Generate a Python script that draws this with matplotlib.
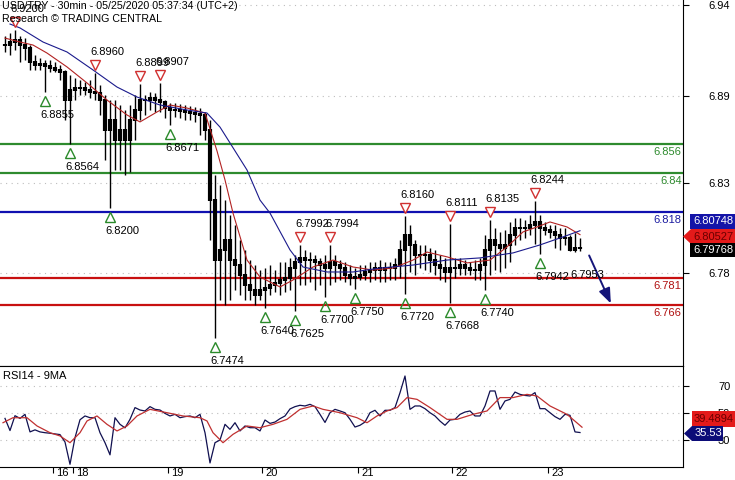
import numpy as np
import matplotlib
matplotlib.use("Agg")
import matplotlib.pyplot as plt
from matplotlib.transforms import ScaledTranslation
from matplotlib.patches import Polygon

plt.rcParams['font.family'] = ['Liberation Sans', 'DejaVu Sans']
FS = 8

# USD/TRY bars (one bar per ~2.5h slice of the 30min chart)
highs = [6.9169, 6.9186, 6.9200, 6.9169, 6.9158, 6.9118, 6.9062, 6.9045, 6.9034, 6.9034,
         6.9023, 6.9006, 6.8978, 6.8950, 6.8933, 6.8922, 6.8910, 6.8922, 6.8960, 6.8893,
         6.8837, 6.8809, 6.8809, 6.8781, 6.8753, 6.8781, 6.8837, 6.8899, 6.8837, 6.8854,
         6.8849, 6.8907, 6.8809, 6.8792, 6.8792, 6.8787, 6.8781, 6.8775, 6.8770, 6.8764,
         6.8742, 6.8697, 6.8388, 6.8332, 6.8247, 6.8163, 6.8107, 6.8023, 6.7967, 6.7910,
         6.7882, 6.7854, 6.7865, 6.7882, 6.7854, 6.7899, 6.7899, 6.7922, 6.7939, 6.7992,
         6.7967, 6.7955, 6.7939, 6.7922, 6.7939, 6.7994, 6.7939, 6.7910, 6.7899, 6.7882,
         6.7865, 6.7882, 6.7882, 6.7899, 6.7899, 6.7910, 6.7899, 6.7899, 6.7922, 6.8023,
         6.8160, 6.8107, 6.8023, 6.7995, 6.7995, 6.7978, 6.7967, 6.7939, 6.7922, 6.8111,
         6.7922, 6.7922, 6.7910, 6.7899, 6.7910, 6.7922, 6.8051, 6.8135, 6.8090, 6.8068,
         6.8079, 6.8124, 6.8146, 6.8146, 6.8135, 6.8163, 6.8244, 6.8163, 6.8124, 6.8107,
         6.8107, 6.8090, 6.8090, 6.8051, 6.8062, 6.8034]
lows = [6.9079, 6.9062, 6.9090, 6.9023, 6.9034, 6.8978, 6.8978, 6.8978, 6.8855, 6.8966,
        6.8966, 6.8922, 6.8697, 6.8564, 6.8809, 6.8837, 6.8837, 6.8820, 6.8809, 6.8725,
        6.8472, 6.8200, 6.8416, 6.8416, 6.8388, 6.8405, 6.8584, 6.8697, 6.8725, 6.8753,
        6.8742, 6.8742, 6.8708, 6.8671, 6.8714, 6.8708, 6.8697, 6.8697, 6.8686, 6.8613,
        6.8584, 6.8023, 6.7474, 6.7686, 6.7658, 6.7686, 6.7742, 6.7714, 6.7686, 6.7686,
        6.7658, 6.7686, 6.7640, 6.7714, 6.7731, 6.7714, 6.7731, 6.7742, 6.7625, 6.7770,
        6.7770, 6.7787, 6.7742, 6.7770, 6.7700, 6.7770, 6.7787, 6.7798, 6.7787, 6.7770,
        6.7750, 6.7798, 6.7798, 6.7787, 6.7798, 6.7787, 6.7787, 6.7798, 6.7798, 6.7809,
        6.7720, 6.7843, 6.7826, 6.7865, 6.7854, 6.7843, 6.7826, 6.7798, 6.7787, 6.7668,
        6.7809, 6.7826, 6.7826, 6.7826, 6.7798, 6.7798, 6.7740, 6.7826, 6.7854, 6.7843,
        6.7865, 6.7899, 6.7995, 6.8023, 6.8034, 6.8051, 6.8000, 6.7942, 6.8051, 6.8034,
        6.7978, 6.7967, 6.7995, 6.7960, 6.7953, 6.7960]
closes = [6.9118, 6.9135, 6.9146, 6.9118, 6.9101, 6.9023, 6.9006, 6.9011, 6.9000, 6.8989,
          6.8978, 6.8966, 6.8809, 6.8865, 6.8877, 6.8877, 6.8865, 6.8854, 6.8849, 6.8809,
          6.8641, 6.8697, 6.8584, 6.8641, 6.8584, 6.8697, 6.8753, 6.8809, 6.8809, 6.8820,
          6.8809, 6.8798, 6.8764, 6.8753, 6.8753, 6.8747, 6.8742, 6.8736, 6.8731, 6.8725,
          6.8641, 6.8247, 6.7910, 6.7967, 6.8023, 6.7910, 6.7882, 6.7826, 6.7770, 6.7742,
          6.7714, 6.7742, 6.7753, 6.7770, 6.7781, 6.7798, 6.7809, 6.7865, 6.7899, 6.7922,
          6.7910, 6.7910, 6.7899, 6.7882, 6.7865, 6.7899, 6.7882, 6.7865, 6.7826, 6.7809,
          6.7815, 6.7826, 6.7843, 6.7854, 6.7865, 6.7854, 6.7865, 6.7865, 6.7882, 6.7967,
          6.8051, 6.7995, 6.7939, 6.7939, 6.7939, 6.7910, 6.7882, 6.7865, 6.7843, 6.7865,
          6.7865, 6.7882, 6.7865, 6.7854, 6.7854, 6.7882, 6.7967, 6.8023, 6.7995, 6.7978,
          6.7995, 6.8051, 6.8090, 6.8090, 6.8090, 6.8107, 6.8124, 6.8090, 6.8079, 6.8068,
          6.8051, 6.8034, 6.8034, 6.7967, 6.7978, 6.79768]

# moving averages on price (bar index, value)
red_ma_t = [0, 3, 5.6, 8.4, 12.4, 16.4, 20.4, 24.4, 27, 30.4, 33, 36.4, 40, 42.4, 44, 45.6,
            48.4, 51, 55, 57.6, 61.6, 65.6, 69.6, 73.6, 77.6, 81.6, 84.4, 88.4, 92.4, 97,
            100.4, 103.6, 106.4, 109, 112.4, 115]
red_ma = [6.9157, 6.9135, 6.9118, 6.9073, 6.8995, 6.8905, 6.8809, 6.8725, 6.8686, 6.8742,
          6.8781, 6.8764, 6.8736, 6.8523, 6.8360, 6.8174, 6.7910, 6.7815, 6.7759, 6.7798,
          6.7871, 6.7910, 6.7871, 6.7854, 6.7865, 6.7910, 6.7955, 6.7928, 6.7894, 6.7910,
          6.7984, 6.8068, 6.8096, 6.8124, 6.8096, 6.80527]
blue_ma_t = [1, 3, 7.6, 12.4, 17.6, 22.4, 26.4, 31, 36.4, 40.4, 43, 45, 48.4, 51, 53, 57,
             59.6, 64.4, 69.6, 75, 81.6, 88.4, 95, 101.6, 107, 111.6, 115]
blue_ma = [6.9236, 6.9214, 6.9135, 6.9079, 6.8978, 6.8882, 6.8826, 6.8781, 6.8753, 6.8736,
           6.8657, 6.8568, 6.8416, 6.8247, 6.8174, 6.7967, 6.7871, 6.7843, 6.7843, 6.7865,
           6.7882, 6.7910, 6.7922, 6.7950, 6.7995, 6.8040, 6.80748]

# RSI14 per bar and its 9MA
rsi = [46, 37, 48, 46, 49, 36, 37.5, 36, 35.4, 35,
       34.5, 34, 28.5, 12, 31.7, 45, 47.8, 46.5, 46.5, 35.4,
       28, 19, 46.5, 41.6, 39, 45.3, 54, 52.2, 51.5, 54.7,
       52.7, 52.2, 49.7, 47.8, 49, 46.5, 47.3, 47.8, 46.5, 49,
       35.4, 13, 28, 30, 41.6, 37.9, 42.8, 36.7, 40.4, 39.1,
       39.1, 36.7, 44.8, 42.3, 43.3, 45.8, 47.8, 53, 54.7, 55.7,
       55.2, 56.4, 54.7, 49, 43, 50.2, 52.7, 51.5, 50.2, 45.3,
       39.6, 40.9, 43.3, 50.2, 52, 47.8, 52, 52, 54, 65,
       77.4, 52.7, 55.2, 55.2, 53.2, 50.2, 47.8, 44, 40.9, 44.8,
       45.3, 49, 50.7, 51.5, 47.8, 47.8, 55.2, 66.3, 66.3, 52.7,
       58.9, 60.1, 65.5, 63.8, 63, 62.6, 65.1, 53.2, 53.2, 50.2,
       47.3, 45.3, 49, 48.3, 36, 35.53]
rsi_ma_t = [-0.4, 1.6, 4.4, 6.4, 9, 11, 13, 15, 16.4, 18.4, 20.4, 22.4, 24.4, 26.4, 29, 32.4,
            35.6, 39, 40.4, 41.6, 43.6, 45.6, 48.4, 51, 53.6, 56.4, 59, 61.6, 63.6, 67, 70.4,
            72.4, 74.4, 76.4, 78.4, 80.4, 82.4, 85, 88.4, 90.4, 93.6, 96.4, 99, 101.6, 104.4,
            106.4, 109, 112.4, 115.4]
rsi_ma = [42.8, 46.5, 46.5, 40.4, 35.4, 33.0, 28.0, 35.4, 44.1, 47.8, 41.6, 36.7, 40.4, 47.8,
          52.7, 50.2, 47.8, 46.5, 44.1, 35.4, 28.0, 34.2, 40.4, 39.1, 41.6, 45.3, 52.7, 55.2,
          52.7, 50.2, 46.5, 42.8, 47.8, 51.5, 54.0, 61.4, 60.1, 54.0, 45.3, 45.3, 49.0, 51.5,
          61.4, 61.4, 63.8, 62.6, 55.2, 49.0, 39.4894]

# swing points
swing_high_t = [2, 18, 27, 31, 59, 65, 80, 89, 97, 106]
swing_high = [6.9200, 6.8960, 6.8899, 6.8907, 6.7992, 6.7994, 6.8160, 6.8111, 6.8135, 6.8244]
swing_low_t = [8, 13, 21, 33, 42, 52, 58, 64, 70, 80, 89, 96, 107]
swing_low = [6.8855, 6.8564, 6.8200, 6.8671, 6.7474, 6.7640, 6.7625, 6.7700, 6.7750,
             6.7720, 6.7668, 6.7740, 6.7942]
last_low_t = 114
last_low = 6.7953

# support / resistance
levels = [6.856, 6.84, 6.818, 6.781, 6.766]
level_labels = ['6.856', '6.84', '6.818', '6.781', '6.766']
level_colors = ['#2e8b2e', '#2e8b2e', '#1010b0', '#c81010', '#c81010']
level_text_colors = ['#2e8b2e', '#2e8b2e', '#1a1aa0', '#b01010', '#b01010']

# x axis: day labels
day_ticks = [9.6, 13.6, 32.6, 51.4, 70.6, 89.4, 108.6]
day_labels = ['16', '18', '19', '20', '21', '22', '23']

price_ticks = [6.9343, 6.8832, 6.8343, 6.7838]
price_tick_labels = ['6.94', '6.89', '6.83', '6.78']
rsi_ticks = [70, 50, 30]

W, H = 735, 480
fig = plt.figure(figsize=(W / 100, H / 100), dpi=100)
ax = fig.add_axes([0, 1 - 366 / H, 683 / W, 366 / H])
ax2 = fig.add_axes([0, 1 - 467 / H, 683 / W, 101 / H], sharex=ax)

t = np.arange(len(closes))
opens = np.r_[closes[0], closes[:-1]]

# main panel
for lv, c in zip(levels, level_colors):
    ax.axhline(lv, color=c, lw=1.6, zorder=1)
ax.vlines(t, lows, highs, color='black', lw=1.0, zorder=3)
ax.vlines(t, np.minimum(opens, closes) - 0.0004, np.maximum(opens, closes) + 0.0004,
          color='black', lw=3.0, zorder=3)
ax.plot(red_ma_t, red_ma, color='#b22222', lw=0.8, zorder=4)
ax.plot(blue_ma_t, blue_ma, color='#1a1a8c', lw=0.8, zorder=4)


def shifted(dx, dy):
    return ax.transData + ScaledTranslation(dx / 100, dy / 100, fig.dpi_scale_trans)


for x, p in zip(swing_high_t, swing_high):
    ax.plot(x, p, marker='v', ms=7, mfc='white', mec='#d03030', mew=1, transform=shifted(0, 8), zorder=5)
    ax.text(x, p, f'{p:.4f}', transform=shifted(-5, 21), ha='left', va='center', fontsize=FS, zorder=6)
for x, p in zip(swing_low_t, swing_low):
    ax.plot(x, p, marker='^', ms=7, mfc='none', mec='#2a8a2a', mew=1, transform=shifted(0, -9), zorder=5)
    ax.text(x, p, f'{p:.4f}', transform=shifted(-5, -23), ha='left', va='center', fontsize=FS, zorder=6)
ax.text(last_low_t, last_low, f'{last_low:.4f}', transform=shifted(-5, -23), ha='left', va='center',
        fontsize=FS, zorder=6)

for lv, lab, c in zip(levels, level_labels, level_text_colors):
    ax.text(0.998, lv, lab, transform=ax.get_yaxis_transform() + ScaledTranslation(0, -0.03, fig.dpi_scale_trans),
            ha='right', va='top', color=c, fontsize=FS)

ax.annotate('', xy=(121.4, 6.7652), xytext=(116.6, 6.7950),
            arrowprops=dict(arrowstyle='-|>,head_width=0.35,head_length=0.9', color='#15157a', lw=1.4))

ax.set_xlim(-1, 135.6)
ax.set_ylim(6.9371 - 366 / 1780, 6.9371)
ax.yaxis.tick_right()
ax.set_yticks(price_ticks)
ax.set_yticklabels(price_tick_labels)
ax.tick_params(axis='y', direction='out', length=4, pad=30, labelsize=FS)
ax.tick_params(axis='x', bottom=False, labelbottom=False)
for lab in ax.get_yticklabels():
    lab.set_horizontalalignment('right')
ax.grid(axis='y', color='#bdbdbd', linestyle=(0, (1, 4)), lw=0.8)
for s in ['top', 'left']:
    ax.spines[s].set_visible(False)

# RSI panel
ax2.plot(t, rsi, color='#101050', lw=0.9, zorder=3)
ax2.plot(rsi_ma_t, rsi_ma, color='#c03030', lw=0.9, zorder=4)
ax2.set_ylim(10, 84.8)
ax2.yaxis.tick_right()
ax2.set_yticks(rsi_ticks)
ax2.tick_params(axis='y', direction='out', length=4, pad=30, labelsize=FS)
for lab in ax2.get_yticklabels():
    lab.set_horizontalalignment('right')
ax2.grid(axis='y', color='#bdbdbd', linestyle=(0, (1, 4)), lw=0.8)
ax2.set_xticks(day_ticks)
ax2.set_xticklabels(day_labels)
ax2.tick_params(axis='x', direction='out', length=4, pad=-3, labelsize=FS)
for lab in ax2.get_xticklabels():
    lab.set_horizontalalignment('left')
    lab.set_transform(lab.get_transform() + ScaledTranslation(0.03, 0, fig.dpi_scale_trans))
ax2.spines['left'].set_visible(False)
ax2.text(3 / 683, 0.9, 'RSI14 - 9MA', transform=ax2.transAxes, ha='left', va='center', fontsize=FS)

# header
fig.text(2 / W, 1 - 6 / H, 'USD/TRY - 30min - 05/25/2020 05:37:34 (UTC+2)', ha='left', va='center', fontsize=7.7)
fig.text(2 / W, 1 - 19 / H, 'Research \u00a9 TRADING CENTRAL', ha='left', va='center', fontsize=7.7)


# last value tags at the right edge
def tag(x0, x1, y0, y1, fc, tc, s, arrow=False):
    ym = (y0 + y1) / 2
    if arrow:
        pts = [(x0, ym), (x0 + 8, y0), (x1, y0), (x1, y1), (x0 + 8, y1)]
    else:
        pts = [(x0, y0), (x1, y0), (x1, y1), (x0, y1)]
    pts = [(x / W, 1 - y / H) for x, y in pts]
    fig.patches.append(Polygon(pts, closed=True, transform=fig.transFigure, fc=fc, ec='none'))
    fig.text((x1 - 1) / W, 1 - ym / H, s, ha='right', va='center', color=tc, fontsize=FS)


tag(690, 735, 214, 229, '#1414a8', 'white', '6.80748')
tag(683, 735, 229, 244, '#e41a1a', '#6a0000', '6.80527', arrow=True)
tag(690, 735, 243, 257, 'black', 'white', '6.79768')
tag(692, 735, 411, 427, '#e41a1a', '#6a0000', '39.4894')
tag(684, 723, 426, 441, '#0c0c78', 'white', '35.53', arrow=True)

fig.savefig('out.png', dpi=100)
